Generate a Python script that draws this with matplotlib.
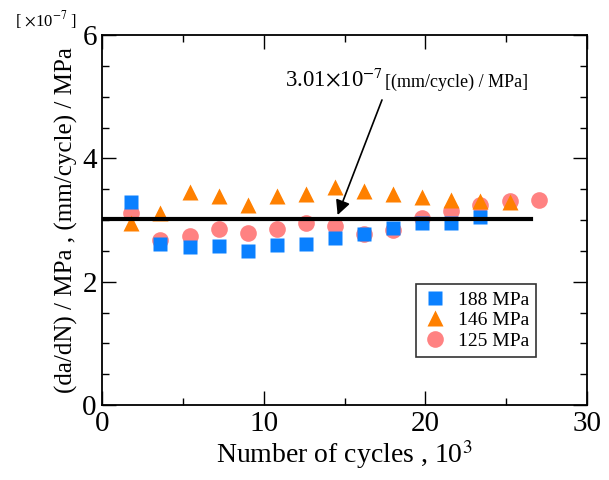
import numpy as np
import matplotlib.pyplot as plt
from matplotlib.ticker import MultipleLocator

plt.rcParams['font.family'] = 'Liberation Serif'
plt.rcParams['mathtext.fontset'] = 'stix'

# cycles (x10^3) and crack growth rate (x10^-7 (mm/cycle)/MPa)
cycles = [1.8, 3.6, 5.4, 7.2, 9.0, 10.8, 12.6, 14.4, 16.2, 18.0, 19.8, 21.6, 23.4, 25.2, 27.0]
rate_188 = [3.29, 2.62, 2.56, 2.58, 2.50, 2.59, 2.61, 2.71, 2.77, 2.87, 2.95, 2.95, 3.05]
rate_146 = [2.95, 3.12, 3.45, 3.39, 3.24, 3.39, 3.42, 3.54, 3.47, 3.43, 3.38, 3.32, 3.31, 3.30]
rate_125 = [3.12, 2.68, 2.74, 2.85, 2.79, 2.85, 2.96, 2.90, 2.77, 2.84, 3.03, 3.15, 3.24, 3.31, 3.32]
mean_rate = 3.01
line_end = 26.5

fig = plt.figure(figsize=(6.09, 4.8), dpi=100)
ax = fig.add_axes([0.168, 0.156, 0.796, 0.771])

ax.plot(cycles[:len(rate_125)], rate_125, 'o', color='#FF8282', ms=12, mec='none',
        label='125 MPa', zorder=2)
ax.plot(cycles[:len(rate_146)], rate_146, '^', color='#FF8000', ms=12, mec='none',
        label='146 MPa', zorder=3)
ax.plot(cycles[:len(rate_188)], rate_188, 's', color='#0A80FF', ms=10, mec='none',
        label='188 MPa', zorder=4)
ax.plot([0, line_end], [mean_rate, mean_rate], color='black', lw=3, zorder=5)

ax.set_xlim(0, 30)
ax.set_ylim(0, 6)
ax.xaxis.set_major_locator(MultipleLocator(10))
ax.xaxis.set_minor_locator(MultipleLocator(5))
ax.yaxis.set_major_locator(MultipleLocator(2))
ax.yaxis.set_minor_locator(MultipleLocator(0.5))
ax.tick_params(which='both', direction='in', top=True, right=True, width=1)
ax.tick_params(which='major', length=10, labelsize=21, pad=4)
ax.tick_params(which='minor', length=5)
for s in ax.spines.values():
    s.set_linewidth(1.3)

ax.set_xlabel('Number of cycles , 10$^3$', fontsize=20, labelpad=1)
ax.set_ylabel('(da/dN) / MPa , (mm/cycle) / MPa', fontsize=18, labelpad=3)
fig.text(0.025, 0.946, r'[ $\times$10$^{-7}$ ]', fontsize=12)

ax.annotate('', xy=(14.5, mean_rate + 0.03), xytext=(17.37, 4.99),
            arrowprops=dict(arrowstyle='-|>', color='black', lw=1.2,
                            mutation_scale=22), zorder=6)
ax.text(11.3, 5.16, r'3.01$\times$10$^{-7}$', fontsize=16.5)
ax.text(17.5, 5.16, '[(mm/cycle) / MPa]', fontsize=13)

handles, labels = ax.get_legend_handles_labels()
leg = ax.legend(handles[::-1], labels[::-1], loc='lower right',
                bbox_to_anchor=(0.915, 0.105), fontsize=14, frameon=True,
                fancybox=False, edgecolor='black', handletextpad=0.6,
                borderpad=0.35, labelspacing=0.15, handlelength=1.2)
leg.get_frame().set_linewidth(1.2)

fig.savefig('out.png', dpi=100)
